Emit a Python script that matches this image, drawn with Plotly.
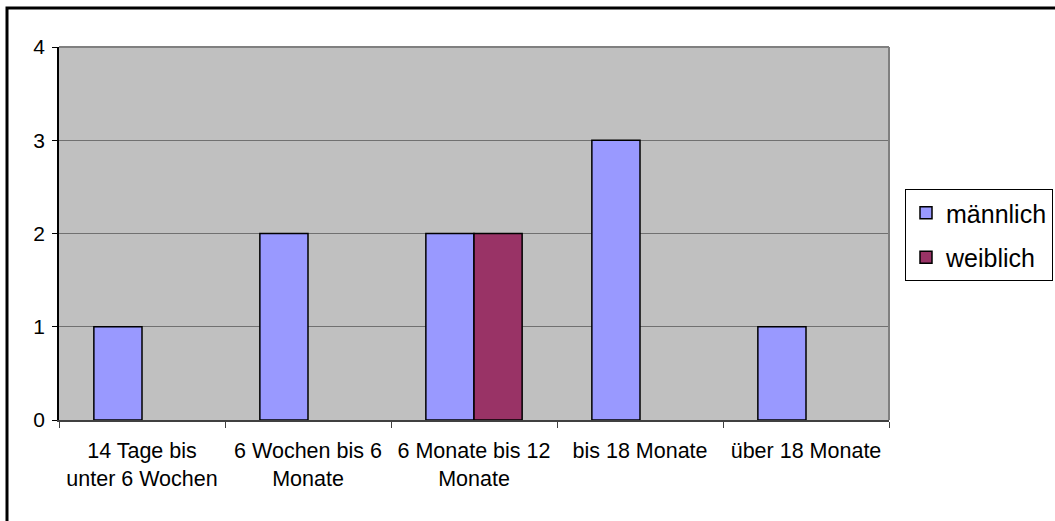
import plotly.graph_objects as go

categories = [
    "14 Tage bis<br>unter 6 Wochen",
    "6 Wochen bis 6<br>Monate",
    "6 Monate bis 12<br>Monate",
    "bis 18 Monate",
    "über 18 Monate",
]
maennlich = [1, 2, 2, 3, 1]
weiblich = [None, None, 2, None, None]

FONT = "Liberation Sans, Arial, sans-serif"

fig = go.Figure()
fig.add_trace(go.Bar(
    name="männlich", x=categories, y=maennlich,
    marker=dict(color="#9999FF", line=dict(color="black", width=1.5)),
    legendgroup="m",
))
fig.add_trace(go.Bar(
    name="weiblich", x=categories, y=weiblich,
    marker=dict(color="#993366", line=dict(color="black", width=1.5)),
    legendgroup="w",
))

L, R, T, B = 59, 166, 47, 101
W, H = 1055, 521
pw, ph = W - L - R, H - T - B

shapes = [
    # plot-area frame, top and right edges
    dict(type="line", xref="paper", yref="paper", x0=0, x1=1, y0=1, y1=1,
         line=dict(color="#808080", width=2)),
    dict(type="line", xref="paper", yref="paper", x0=1, x1=1, y0=0, y1=1,
         line=dict(color="#808080", width=2)),
    # outer chart border
    dict(type="rect", xref="paper", yref="paper",
         x0=(7 - L) / pw, x1=(W + 20 - L) / pw,
         y0=-(H + 20 - T - ph) / ph, y1=(T + ph - 8) / ph,
         line=dict(color="black", width=3), layer="above"),
]

fig.update_layout(
    width=W, height=H,
    margin=dict(l=L, r=R, t=T, b=B, pad=0, autoexpand=False),
    paper_bgcolor="white",
    plot_bgcolor="#C0C0C0",
    barmode="group",
    bargap=0.42,
    bargroupgap=0,
    font=dict(family=FONT, size=20, color="black"),
    showlegend=True,
    legend=dict(
        x=(905 - L) / pw, xanchor="left",
        y=(T + ph - 189) / ph, yanchor="top",
        bordercolor="black", borderwidth=1,
        bgcolor="white",
        font=dict(family=FONT, size=25, color="black"),
        tracegroupgap=9,
        traceorder="grouped",
    ),
    shapes=shapes,
)
fig.update_xaxes(
    type="category",
    showline=True, linecolor="#404040", linewidth=2,
    ticks="outside", tickson="boundaries", ticklen=6, tickcolor="#404040",
    showgrid=False,
    ticklabelstandoff=10,
    tickfont=dict(family=FONT, size=21.5, color="black"),
)
fig.update_yaxes(
    range=[0, 4], dtick=1,
    showline=True, linecolor="black", linewidth=1.5,
    ticks="outside", ticklen=5, tickcolor="black",
    showgrid=True, gridcolor="#707070", gridwidth=1,
    zeroline=False,
    ticklabelstandoff=3,
    tickfont=dict(family=FONT, size=21, color="black"),
)

fig.write_html("out.html")
